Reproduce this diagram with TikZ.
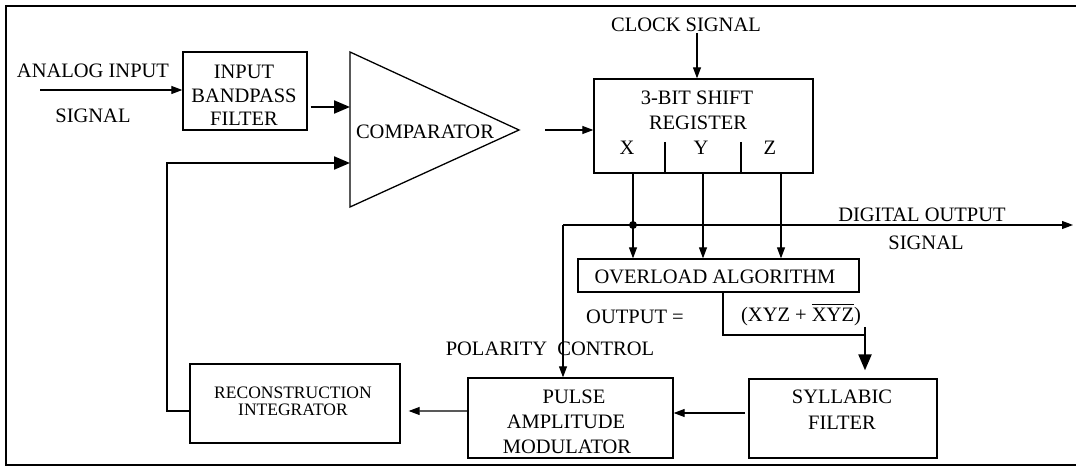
\documentclass[tikz,border=0pt]{standalone}
\usepackage{fontspec}
\setmainfont{Liberation Serif}
\usetikzlibrary{arrows.meta,calc}
\newcommand\myovbar[1]{\leavevmode\setbox0\hbox{#1}\rlap{\rule[\dimexpr\ht0+2.5bp\relax]{\wd0}{1.2bp}}\box0}
\begin{document}
\begin{tikzpicture}[x=1bp,y=-1bp,
  txt/.style={inner sep=0pt,anchor=center,font=\fontsize{20.5bp}{23bp}\selectfont},
  stxt/.style={inner sep=0pt,anchor=center,font=\fontsize{17.5bp}{20bp}\selectfont},
  blk/.style={draw,line width=1.3bp,inner sep=0pt},
  conn/.style={line width=1.1bp,-{Triangle[length=11bp,width=8bp]}},
  tconn/.style={line width=2.2bp,-{Triangle[length=16bp,width=13bp]}},
  plain/.style={line width=1.1bp}]
\useasboundingbox (0,0) rectangle (1076,468);
\fill[white] (0,0) rectangle (1076,468);
\draw[line width=1.8bp] (1076,6) -- (6,6) -- (6,465) -- (1076,465);

% blocks
\node[blk,minimum width=124bp,minimum height=78bp] (bpf) at (245,91) {};
\node[blk,minimum width=219bp,minimum height=94bp] (reg) at (703.5,126) {};
\node[blk,minimum width=281bp,minimum height=33bp] (ovl) at (718.5,275.5) {};
\node[blk,minimum width=210bp,minimum height=79bp] (recon) at (295,403.5) {};
\node[blk,minimum width=205bp,minimum height=80bp] (pam) at (570.5,418) {};
\node[blk,minimum width=188bp,minimum height=79bp] (syl) at (843,418.5) {};

% comparator triangle
\coordinate (ctop) at (350,52);
\coordinate (cbot) at (350,207);
\coordinate (capex) at (519,130);
\draw[line width=1.3bp] (ctop) -- (capex) -- (cbot) -- cycle;
\coordinate (cin1) at (350,107);
\coordinate (cin2) at (350,163);

% texts
\node[txt] (tana) at (93,71) {ANALOG INPUT};
\node[txt] (tsig) at (93,116) {SIGNAL};
\node[txt] (b1) at (244,72) {INPUT};
\node[txt] (b2) at (244,96) {BANDPASS};
\node[txt] (b3) at (244,119) {FILTER};
\node[txt] (tcomp) at (425,132) {COMPARATOR};
\node[txt] (tclk) at (686,25) {CLOCK SIGNAL};
\node[txt] (r1) at (697,98) {3-BIT SHIFT};
\node[txt] (r2) at (698,123) {REGISTER};
\node[txt] (rx) at (627,148) {X};
\node[txt] (ry) at (701,148) {Y};
\node[txt] (rz) at (770,148) {Z};
\node[txt] (tdo) at (922,215) {DIGITAL OUTPUT};
\node[txt] (tds) at (926,243) {SIGNAL};
\node[txt] (tovl) at (715,277) {OVERLOAD ALGORITHM};
\node[txt] (tout) at (635,317) {OUTPUT =};
\node[txt] (texpr) at (801,315) {(XYZ + \myovbar{XYZ})};
\node[txt] (tpol) at (550,349) {POLARITY\ \ CONTROL};
\node[stxt] (rc1) at (293,393) {RECONSTRUCTION};
\node[stxt] (rc2) at (293,409.5) {INTEGRATOR};
\node[txt] (p1) at (574,397) {PULSE};
\node[txt] (p2) at (566,422) {AMPLITUDE};
\node[txt] (p3) at (567,447) {MODULATOR};
\node[txt] (s1) at (842,397) {SYLLABIC};
\node[txt] (s2) at (842,423) {FILTER};

% connectors
\coordinate (ain) at (40,90);
\draw[conn] (ain) -- (ain -| bpf.west);
\draw[tconn] ($(bpf.east |- cin1)+(3,0)$) -- (cin1);
\coordinate (fbc) at (167,163);
\draw[tconn] ($(recon.west)+(0,7.5)$) -| (fbc) -- (cin2);
\coordinate (cout) at (545,130);
\draw[conn] (cout) -- (cout -| reg.west);
\coordinate (clk) at (697,33);
\draw[conn] (clk) -- (clk |- reg.north);
\draw[plain] (665,142) -- (665,173);
\draw[plain] (741,142) -- (741,173);
\coordinate (xo) at (633,173);
\coordinate (yo) at (703,173);
\coordinate (zo) at (781,173);
\draw[conn] (xo) -- (xo |- ovl.north);
\draw[conn] (yo) -- (yo |- ovl.north);
\draw[conn] (zo) -- (zo |- ovl.north);
\coordinate (dstart) at (563,225);
\coordinate (dend) at (1073,225);
\coordinate (dot) at (633,225);
\draw[conn] (dstart) -- (dend);
\fill (dot) circle (4bp);
\draw[conn] (dstart) -- (dstart |- pam.north);
\coordinate (ovo) at (723,292);
\coordinate (ovc) at (865,335);
\draw[plain] (ovo) |- (ovc);
\draw[tconn] (865,327) -- ($(syl.north -| ovc)+(0,-8)$);
\coordinate (sylo) at (745,413);
\draw[conn] (sylo) -- (sylo -| pam.east);
\draw[conn] ($(pam.west)+(0,-7)$) -- ($(recon.east)+(8,7.5)$);
\end{tikzpicture}
\end{document}
